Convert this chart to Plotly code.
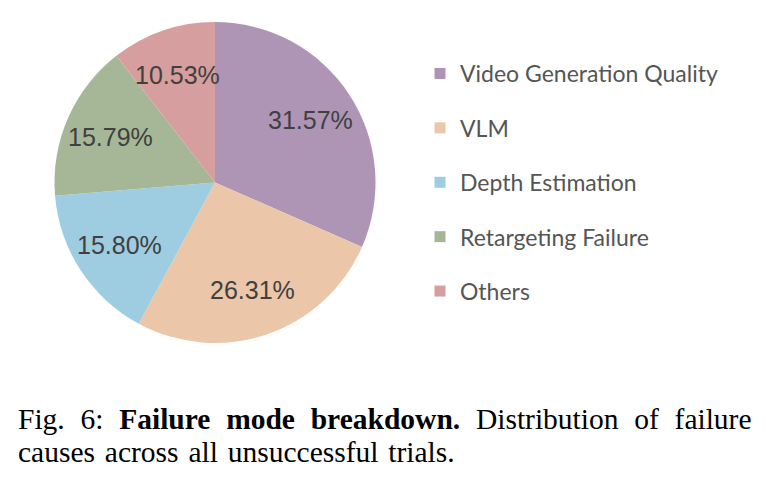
import math
import plotly.graph_objects as go

labels = ["Video Generation Quality", "VLM", "Depth Estimation", "Retargeting Failure", "Others"]
values = [31.57, 26.31, 15.80, 15.79, 10.53]
colors = ["#AE95B6", "#EBC6A8", "#9ECDE1", "#A5B797", "#D69E9E"]
text_labels = ["31.57%", "26.31%", "15.80%", "15.79%", "10.53%"]

W, H = 766, 490
dom_x = [54 / W, 376 / W]
dom_y = [1 - 343 / H, 1 - 22 / H]

fig = go.Figure()

fig.add_trace(go.Pie(
    labels=labels, values=values, sort=False, direction="clockwise", rotation=0,
    marker=dict(colors=colors, line=dict(width=0)),
    textinfo="none",
    domain=dict(x=dom_x, y=dom_y),
    showlegend=False, hoverinfo="label+percent",
))

# Percentage labels placed at each slice's mid-angle (derived from the values)
cx = (dom_x[0] + dom_x[1]) / 2 * W
cy = (1 - (dom_y[0] + dom_y[1]) / 2) * H
R = min((dom_x[1] - dom_x[0]) * W, (dom_y[1] - dom_y[0]) * H) / 2
total = sum(values)
annotations = []
cum = 0.0
for v, t in zip(values, text_labels):
    mid = (cum + v / 2) / total * 2 * math.pi
    cum += v
    r = 0.71 * R
    px = cx + r * math.sin(mid)
    py = cy - r * math.cos(mid)
    annotations.append(dict(
        x=px / W, y=1 - py / H, xref="paper", yref="paper", showarrow=False,
        text=t, xanchor="center", yanchor="middle",
        font=dict(family="Liberation Sans, Arial", size=25, color="#404040"),
    ))

for i, (lab, col) in enumerate(zip(labels, colors)):
    fig.add_trace(go.Scatter(
        x=[None], y=[None], mode="markers", name=lab,
        marker=dict(symbol="square", size=11, color=col),
        legendgroup=f"g{i}", showlegend=True,
    ))

serif = "Liberation Serif, Times New Roman"
sp = "\u2009\u200a "
line1 = (f"Fig.{sp}6:{sp}<b>Failure{sp}mode{sp}breakdown.</b>{sp}"
         f"Distribution{sp}of{sp}failure")
sp2 = "\u200a "
line2 = f"causes{sp2}across{sp2}all{sp2}unsuccessful{sp2}trials."
cap_size = 29.5
annotations += [
    dict(x=16 / W, y=1 - 437.4 / H, xref="paper", yref="paper", xanchor="left", yanchor="bottom",
         showarrow=False, align="left", text=line1,
         font=dict(family=serif, size=cap_size, color="black")),
    dict(x=16 / W, y=1 - 470.4 / H, xref="paper", yref="paper", xanchor="left", yanchor="bottom",
         showarrow=False, align="left", text=line2,
         font=dict(family=serif, size=cap_size, color="black")),
]

fig.update_layout(
    width=W, height=H, margin=dict(l=0, r=0, t=0, b=0),
    paper_bgcolor="white", plot_bgcolor="white",
    xaxis=dict(visible=False), yaxis=dict(visible=False),
    legend=dict(
        x=420 / W, y=1 - 52 / H, xanchor="left", yanchor="top",
        font=dict(family="Lato, sans-serif", size=23, color="#555555"),
        tracegroupgap=21.5, itemwidth=30, bgcolor="rgba(0,0,0,0)",
    ),
    annotations=annotations,
)

fig.write_html("out.html")
